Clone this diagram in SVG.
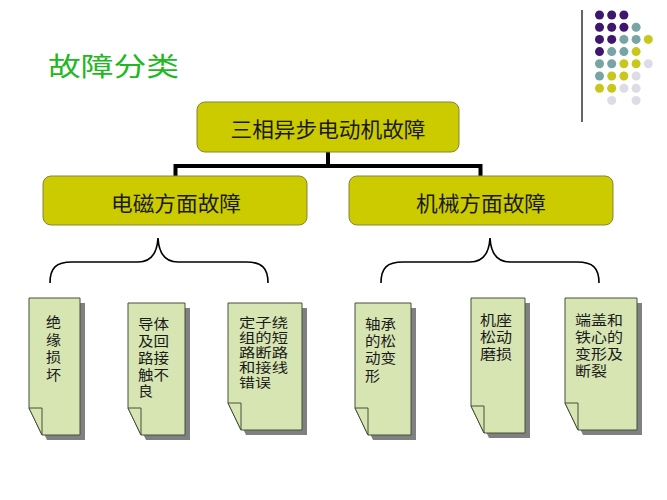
<svg xmlns="http://www.w3.org/2000/svg" width="667" height="500" viewBox="0 0 667 500">
<style>
.t{font-family:"Noto Sans CJK SC","Noto Sans",sans-serif;fill:#1a1a1a}
.box{fill:#cbcb00;stroke:#85853a;stroke-width:1}
.bt{font-size:21px;text-anchor:middle}
.card{fill:#d7e5b2;stroke:#45503a;stroke-width:1;stroke-linejoin:miter}
.shadow{fill:#808080}
.ct{font-size:14px}
.cs{font-size:13px}
.con{stroke:#000;stroke-width:4;fill:none}
.brace{stroke:#000;stroke-width:1.6;fill:none}
.p{fill:#3e1670}.g{fill:#78a4a4}.y{fill:#c8c81c}.l{fill:#dcdce6}
</style>
<rect width="667" height="500" fill="#fff"/>
<g id="decor">
<line x1="582" y1="10" x2="582" y2="122" stroke="#333" stroke-width="1.5"/>
<circle class="p" cx="599.5" cy="15" r="4.5"/><circle class="p" cx="611.7" cy="15" r="4.5"/><circle class="p" cx="623.9" cy="15" r="4.5"/>
<circle class="p" cx="599.5" cy="27.2" r="4.5"/><circle class="p" cx="611.7" cy="27.2" r="4.5"/><circle class="p" cx="623.9" cy="27.2" r="4.5"/><circle class="g" cx="636.1" cy="27.2" r="4.5"/>
<circle class="p" cx="599.5" cy="39.4" r="4.5"/><circle class="p" cx="611.7" cy="39.4" r="4.5"/><circle class="g" cx="623.9" cy="39.4" r="4.5"/><circle class="g" cx="636.1" cy="39.4" r="4.5"/><circle class="y" cx="648.3" cy="39.4" r="4.5"/>
<circle class="p" cx="599.5" cy="51.6" r="4.5"/><circle class="g" cx="611.7" cy="51.6" r="4.5"/><circle class="g" cx="623.9" cy="51.6" r="4.5"/><circle class="y" cx="636.1" cy="51.6" r="4.5"/>
<circle class="g" cx="599.5" cy="63.8" r="4.5"/><circle class="g" cx="611.7" cy="63.8" r="4.5"/><circle class="y" cx="623.9" cy="63.8" r="4.5"/><circle class="y" cx="636.1" cy="63.8" r="4.5"/><circle class="l" cx="648.3" cy="63.8" r="4.5"/>
<circle class="g" cx="599.5" cy="76" r="4.5"/><circle class="y" cx="611.7" cy="76" r="4.5"/><circle class="y" cx="623.9" cy="76" r="4.5"/><circle class="l" cx="636.1" cy="76" r="4.5"/>
<circle class="y" cx="599.5" cy="88.2" r="4.5"/><circle class="y" cx="611.7" cy="88.2" r="4.5"/><circle class="l" cx="623.9" cy="88.2" r="4.5"/><circle class="l" cx="636.1" cy="88.2" r="4.5"/>
<circle class="l" cx="611.7" cy="100.4" r="4.5"/><circle class="l" cx="636.1" cy="100.4" r="4.5"/>
</g>
<text id="title" x="48" y="76" font-family="Noto Sans CJK SC, sans-serif" font-size="26" fill="#22b822" textLength="131" lengthAdjust="spacingAndGlyphs">故障分类</text>
<g id="connectors">
<path class="con" d="M328,152 V166 M175.5,166 H480.5 M175.5,164 V176 M480.5,164 V176"/>
<path class="brace" d="M50,283 C50,268 56,262 72,262 L138,262 C150,262 157,255 158,238 C159,255 166,262 178,262 L246,262 C262,262 268,268 268,283"/>
<path class="brace" d="M381,283 C381,268 387,262 403,262 L470,262 C482,262 489,255 490,238 C491,255 498,262 510,262 L577,262 C593,262 599,268 599,283"/>
</g>
<g id="root">
<rect class="box" x="197" y="102" width="262" height="50" rx="8"/>
<text class="t bt" x="328" y="137" textLength="195" lengthAdjust="spacingAndGlyphs">三相异步电动机故障</text>
</g>
<g id="em">
<rect class="box" x="43" y="176" width="264" height="49" rx="8"/>
<text class="t bt" x="176" y="211" textLength="130" lengthAdjust="spacingAndGlyphs">电磁方面故障</text>
</g>
<g id="mech">
<rect class="box" x="349" y="176" width="264" height="49" rx="8"/>
<text class="t bt" x="481" y="211" textLength="130" lengthAdjust="spacingAndGlyphs">机械方面故障</text>
</g>
<g id="c1">
<path class="shadow" transform="translate(5,5)" d="M29,298 H80 V435 H42 L29,408 Z"/>
<path class="card" d="M29,298 H80 V435 H42 L29,408 Z"/>
<path class="card" d="M29,408 H42 V435 Z"/>
<text class="t ct" x="46" y="327" textLength="15" lengthAdjust="spacingAndGlyphs">绝</text>
<text class="t ct" x="46" y="344.5" textLength="15" lengthAdjust="spacingAndGlyphs">缘</text>
<text class="t ct" x="46" y="362" textLength="15" lengthAdjust="spacingAndGlyphs">损</text>
<text class="t ct" x="46" y="379.5" textLength="15" lengthAdjust="spacingAndGlyphs">坏</text>
</g>
<g id="c2">
<path class="shadow" transform="translate(5,5)" d="M128,303 H185 V435 H141 L128,408 Z"/>
<path class="card" d="M128,303 H185 V435 H141 L128,408 Z"/>
<path class="card" d="M128,408 H141 V435 Z"/>
<text class="t ct" x="138" y="329" textLength="31" lengthAdjust="spacingAndGlyphs">导体</text>
<text class="t ct" x="138" y="346" textLength="31" lengthAdjust="spacingAndGlyphs">及回</text>
<text class="t ct" x="138" y="363" textLength="31" lengthAdjust="spacingAndGlyphs">路接</text>
<text class="t ct" x="138" y="379.5" textLength="31" lengthAdjust="spacingAndGlyphs">触不</text>
<text class="t ct" x="138" y="396" textLength="15" lengthAdjust="spacingAndGlyphs">良</text>
</g>
<g id="c3">
<path class="shadow" transform="translate(5,5)" d="M228,303 H302 V430 H241 L228,403 Z"/>
<path class="card" d="M228,303 H302 V430 H241 L228,403 Z"/>
<path class="card" d="M228,403 H241 V430 Z"/>
<text class="t cs" x="239" y="327" textLength="49" lengthAdjust="spacingAndGlyphs">定子绕</text>
<text class="t cs" x="239" y="342" textLength="49" lengthAdjust="spacingAndGlyphs">组的短</text>
<text class="t cs" x="239" y="357" textLength="49" lengthAdjust="spacingAndGlyphs">路断路</text>
<text class="t cs" x="239" y="372" textLength="49" lengthAdjust="spacingAndGlyphs">和接线</text>
<text class="t cs" x="239" y="387" textLength="32" lengthAdjust="spacingAndGlyphs">错误</text>
</g>
<g id="c4">
<path class="shadow" transform="translate(5,5)" d="M355,303 H411 V435 H368 L355,408 Z"/>
<path class="card" d="M355,303 H411 V435 H368 L355,408 Z"/>
<path class="card" d="M355,408 H368 V435 Z"/>
<text class="t ct" x="365" y="329" textLength="31" lengthAdjust="spacingAndGlyphs">轴承</text>
<text class="t ct" x="365" y="346" textLength="31" lengthAdjust="spacingAndGlyphs">的松</text>
<text class="t ct" x="365" y="363" textLength="31" lengthAdjust="spacingAndGlyphs">动变</text>
<text class="t ct" x="365" y="381" textLength="15" lengthAdjust="spacingAndGlyphs">形</text>
</g>
<g id="c5">
<path class="shadow" transform="translate(5,5)" d="M471,298 H525 V433 H484 L471,406 Z"/>
<path class="card" d="M471,298 H525 V433 H484 L471,406 Z"/>
<path class="card" d="M471,406 H484 V433 Z"/>
<text class="t ct" x="480" y="325" textLength="32" lengthAdjust="spacingAndGlyphs">机座</text>
<text class="t ct" x="480" y="342" textLength="32" lengthAdjust="spacingAndGlyphs">松动</text>
<text class="t ct" x="480" y="359" textLength="32" lengthAdjust="spacingAndGlyphs">磨损</text>
</g>
<g id="c6">
<path class="shadow" transform="translate(5,5)" d="M565,298 H637 V430 H578 L565,403 Z"/>
<path class="card" d="M565,298 H637 V430 H578 L565,403 Z"/>
<path class="card" d="M565,403 H578 V430 Z"/>
<text class="t ct" x="575" y="325" textLength="48" lengthAdjust="spacingAndGlyphs">端盖和</text>
<text class="t ct" x="575" y="342" textLength="48" lengthAdjust="spacingAndGlyphs">铁心的</text>
<text class="t ct" x="575" y="359" textLength="48" lengthAdjust="spacingAndGlyphs">变形及</text>
<text class="t ct" x="575" y="376" textLength="32" lengthAdjust="spacingAndGlyphs">断裂</text>
</g>
</svg>
